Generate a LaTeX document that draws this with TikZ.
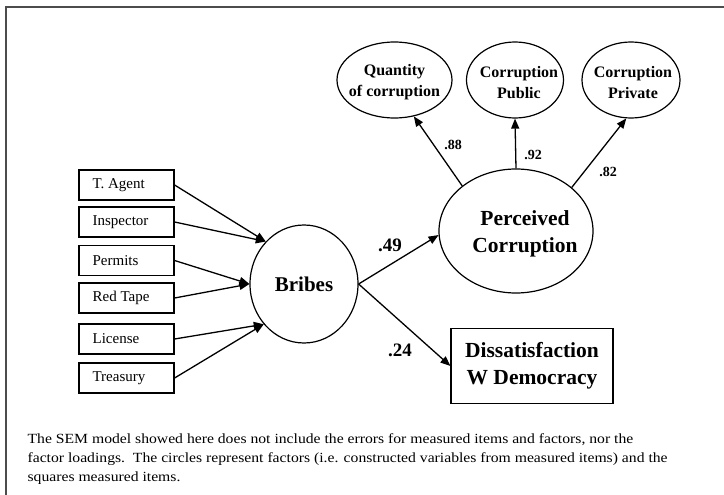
\documentclass[tikz,border=0pt]{standalone}
\usepackage{fontspec}
\setmainfont{Liberation Serif}
\usetikzlibrary{arrows.meta,shapes.geometric}
\newcommand{\wideline}[1]{\scalebox{1.12}[1]{#1}}
\begin{document}
\begin{tikzpicture}[x=1pt,y=-1pt,
  line width=1.2pt,
  measured/.style={draw, rectangle, minimum width=95pt, minimum height=30pt, inner sep=0pt},
  itemlabel/.style={anchor=west, inner sep=0pt, font=\fontsize{15}{18}\selectfont},
  factor/.style={draw, ellipse, inner sep=0pt},
  smallfactor/.style={factor, minimum height=76pt},
  factorlabel/.style={align=center, inner sep=0pt, font=\bfseries\fontsize{16}{21}\selectfont},
  outcome/.style={draw, rectangle, inner sep=0pt, align=center, minimum width=162pt, minimum height=75pt,
    font=\bfseries\fontsize{21.5}{27}\selectfont},
  path/.style={-{Triangle[length=10pt,width=8pt]}, line width=1.3pt},
  bigcoef/.style={font=\bfseries\fontsize{19}{20}\selectfont, inner sep=0pt},
  smallcoef/.style={font=\bfseries\fontsize{14}{15}\selectfont, inner sep=0pt}
]
\useasboundingbox (0,0) rectangle (724,495);
\fill[white] (0,0) rectangle (724,495);
% outer frame (top and left edges)
\draw[line width=1.2pt, black!70] (6,495) -- (6,7) -- (724,7);

% measured items
\node[measured] (agent) at (126.5,185) {};
\node[measured] (insp)  at (126.5,222) {};
\node[measured] (perm)  at (126.5,260.5) {};
\node[measured] (tape)  at (126.5,298) {};
\node[measured] (lic)   at (126.5,339) {};
\node[measured] (treas) at (126.5,378) {};
\node[itemlabel] (agentt) at (92,185) {T. Agent};
\node[itemlabel] (inspt)  at (92,222) {Inspector};
\node[itemlabel] (permt)  at (92,260.5) {Permits};
\node[itemlabel] (tapet)  at (92,298) {Red Tape};
\node[itemlabel] (lict)   at (92,339) {License};
\node[itemlabel] (treast) at (92,378) {Treasury};

% factors
\node[factor, minimum width=108pt, minimum height=118pt,
      font=\bfseries\fontsize{21}{24}\selectfont] (bribes) at (304,284) {Bribes};
\node[factor, minimum width=154pt, minimum height=124pt] (perc) at (516,231) {};
\node[align=center, inner sep=0pt, font=\bfseries\fontsize{21.5}{27}\selectfont] (perct) at (525,234) {Perceived\\Corruption};
\node[smallfactor, minimum width=115pt] (quant) at (394.5,80) {};
\node[smallfactor, minimum width=97pt] (pub) at (515,80) {};
\node[smallfactor, minimum width=98pt] (priv) at (631,80) {};
\node[factorlabel] (quantt) at (394.5,82.5) {Quantity\\of corruption};
\node[factorlabel] (pubt) at (519,82.5) {Corruption\\Public};
\node[factorlabel] (privt) at (633,82.5) {Corruption\\Private};
\node[outcome] (diss) at (532,366) {Dissatisfaction\\W Democracy};

% paths from measured items to Bribes
\draw[path] (agent.east) -- (bribes.132);
\draw[path] (insp.east)  -- (bribes.132);
\draw[path] (perm.east)  -- (bribes.180);
\draw[path] (tape.east)  -- (bribes.180);
\draw[path] (lic.east)   -- (bribes.225);
\draw[path] (treas.east) -- (bribes.225);

% structural paths
\draw[path] (bribes.east) -- (perc.183);
\draw[path] (bribes.east) -- (diss.west);
\node[bigcoef] (c49) at (390,245) {.49};
\node[bigcoef] (c24) at (400,350) {.24};

% loadings of Perceived Corruption
\draw[path] (perc.140) -- (quant.298);
\draw[path] (perc.north) -- (pub.south);
\draw[path] (perc.38) -- (priv.263);
\node[smallcoef] (c88) at (453,145) {.88};
\node[smallcoef] (c92) at (533,155) {.92};
\node[smallcoef] (c82) at (608,172) {.82};

% caption
\node[anchor=north west, inner sep=0pt, align=left, font=\fontsize{14}{19}\selectfont] (caption) at (27,433)
 {\wideline{The SEM model showed here does not include the errors for measured items and factors, nor the}\\
  \wideline{factor loadings.\ \ The circles represent factors (i.e. constructed variables from measured items) and the}\\
  \wideline{squares measured items.}};
\end{tikzpicture}
\end{document}
